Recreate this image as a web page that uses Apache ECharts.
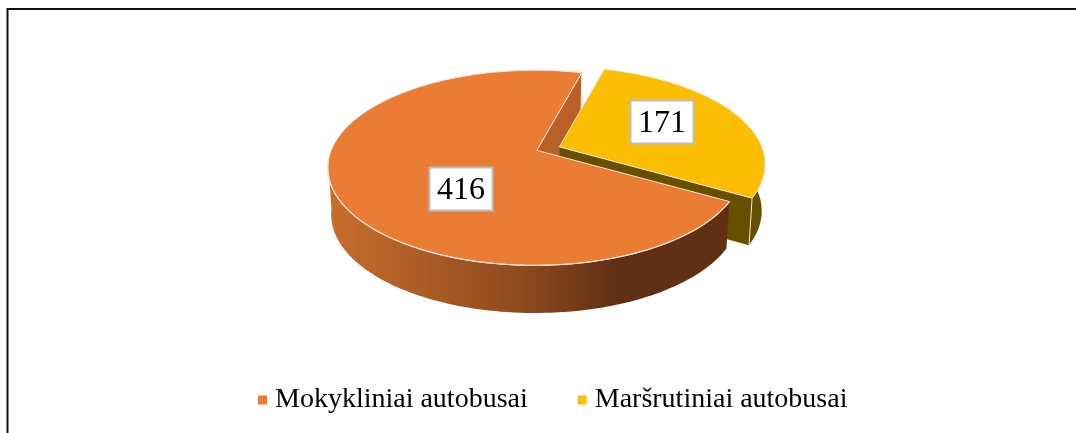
<!DOCTYPE html>
<html><head><meta charset="utf-8">
<style>html,body{margin:0;padding:0;background:#fff}#c{width:1076px;height:433px}</style>
<script src="https://cdn.jsdelivr.net/npm/echarts@6/dist/echarts.min.js"></script>
</head><body><div id="c"></div>
<script>
var categories = ['Mokykliniai autobusai', 'Maršrutiniai autobusai'];
var values = [416, 171];
var sliceColors = ['#EA7C33', '#FBBE00'];

// Layout constants for the projected pie
var L = {cx:536.8, cy:150.3, R:203.9, Ry:94.4, k:0.1795, m:0.008, startDeg:-75,
  bottomScaleX:0.984, bottomScaleY:1.01, bottomDy:46.5, steps:120,
  explode:[[0,0],[22.6,-3.4]], labelOffset:[[-76,39],[103,-25]], labelBox:[63,43], labelTextDy:2};
var chart = echarts.init(document.getElementById('c'));

function proj(a, o, bottom){
  var c=Math.cos(a), s=Math.sin(a), d=1-L.k*s+L.m*c;
  return [L.cx+o[0]+(bottom?L.bottomScaleX:1)*L.R*c/d,
          L.cy+o[1]+(bottom?L.bottomDy:0)+(bottom?L.bottomScaleY:1)*L.Ry*s/d];
}
function arc(a0,a1,o,bottom){
  var n=Math.max(2,Math.ceil(Math.abs(a1-a0)/(2*Math.PI)*L.steps*2)),p=[];
  for(var i=0;i<=n;i++)p.push(proj(a0+(a1-a0)*i/n,o,bottom));
  return p;
}
function poly(points,fill,z,strokeW){
  return {type:'polygon',z2:z,shape:{points:points},
    style:{fill:fill,stroke:'#F3E3D6',lineWidth:strokeW===undefined?1:strokeW,lineJoin:'round'}};
}
function sliceAngles(i){
  var total=values.reduce(function(a,b){return a+b},0), a=L.startDeg*Math.PI/180;
  // Slices run clockwise; the second slice starts at startDeg, the first follows it.
  if(i===1) return [a, a+2*Math.PI*values[1]/total];
  return [a+2*Math.PI*values[1]/total, a+2*Math.PI];
}
function renderItem(params, api){
  var i=params.seriesIndex, ang=sliceAngles(i), o=L.explode[i], a0=ang[0], a1=ang[1];
  var apex=[L.cx+o[0],L.cy+o[1]], apexB=[apex[0],apex[1]+L.bottomDy];
  var ch=[];
  if(i===0){
    var e=proj(a1,o,false), eb=proj(a1,o,true);
    ch.push(poly([apex,e,eb,apexB],'#B96026',0));
    ch.push(poly(arc(a0,a1,o,false).concat([apex]),sliceColors[0],4,1));
    var dark={type:'linear',x:0,y:0,x2:1,y2:0,colorStops:[
      {offset:0,color:'#C96D2D'},{offset:0.5,color:'#8A491D'},{offset:0.72,color:'#5F3013'},{offset:1,color:'#5F3013'}]};
    var sil=Math.PI*0.96;
    var top=arc(a0,sil,o,false), bot=arc(a0,sil,o,true).reverse();
    ch.push(poly(top.concat(bot),dark,3,0));
    ch.push({type:'polyline',z2:5,shape:{points:top},style:{fill:null,stroke:'#F3E3D6',lineWidth:1.2}});
  } else {
    var p1=proj(a1,o,false), p1b=proj(a1,o,true);
    ch.push(poly([apex,p1,p1b,apexB],'#665000',1,0));
    var t=arc(a1,-0.12,o,false), b=arc(a1,-0.12,o,true).reverse();
    ch.push(poly(t.concat(b),'#665000',1,0));
    ch.push({type:'line',z2:2,shape:{x1:p1[0],y1:p1[1],x2:p1b[0],y2:p1b[1]},style:{stroke:'#F3E3D6',lineWidth:1}});
    ch.push(poly(arc(a0,a1,o,false).concat([apex]),sliceColors[1],2,1));
  }
  var lo=L.labelOffset[i], lx=Math.round(apex[0]+lo[0]), ly=Math.round(apex[1]+lo[1]);
  ch.push({type:'rect',z2:8,shape:{x:lx-L.labelBox[0]/2,y:ly-L.labelBox[1]/2,width:L.labelBox[0],height:L.labelBox[1]},
    style:{fill:'#fff',stroke:'#BCC0C4',lineWidth:2}});
  ch.push({type:'text',z2:9,x:lx,y:ly+L.labelTextDy,
    style:{text:String(api.value(0)),fontFamily:'Liberation Serif',fontSize:32,fill:'#000',
      align:'center',verticalAlign:'middle'}});
  return {type:'group',children:ch};
}
chart.setOption({
  animation:false,
  backgroundColor:'#fff',
  graphic:[{type:'polyline',silent:true,z:100,shape:{points:[[7.5,433],[7.5,9],[1076,9]]},style:{fill:null,stroke:'#111',lineWidth:2}}],
  legend:{show:true,left:258,top:386,padding:0,itemWidth:9,itemHeight:9,itemGap:50,icon:'rect',
    data:categories,textStyle:{fontFamily:'Liberation Serif',fontSize:28,color:'#000',padding:[0,0,0,3]}},
  series:categories.map(function(n,i){
    return {type:'custom',name:n,coordinateSystem:'none',renderItem:renderItem,
      data:[{name:n,value:[values[i]]}],encode:{value:0},itemStyle:{color:sliceColors[i]}};
  })
});
</script></body></html>
